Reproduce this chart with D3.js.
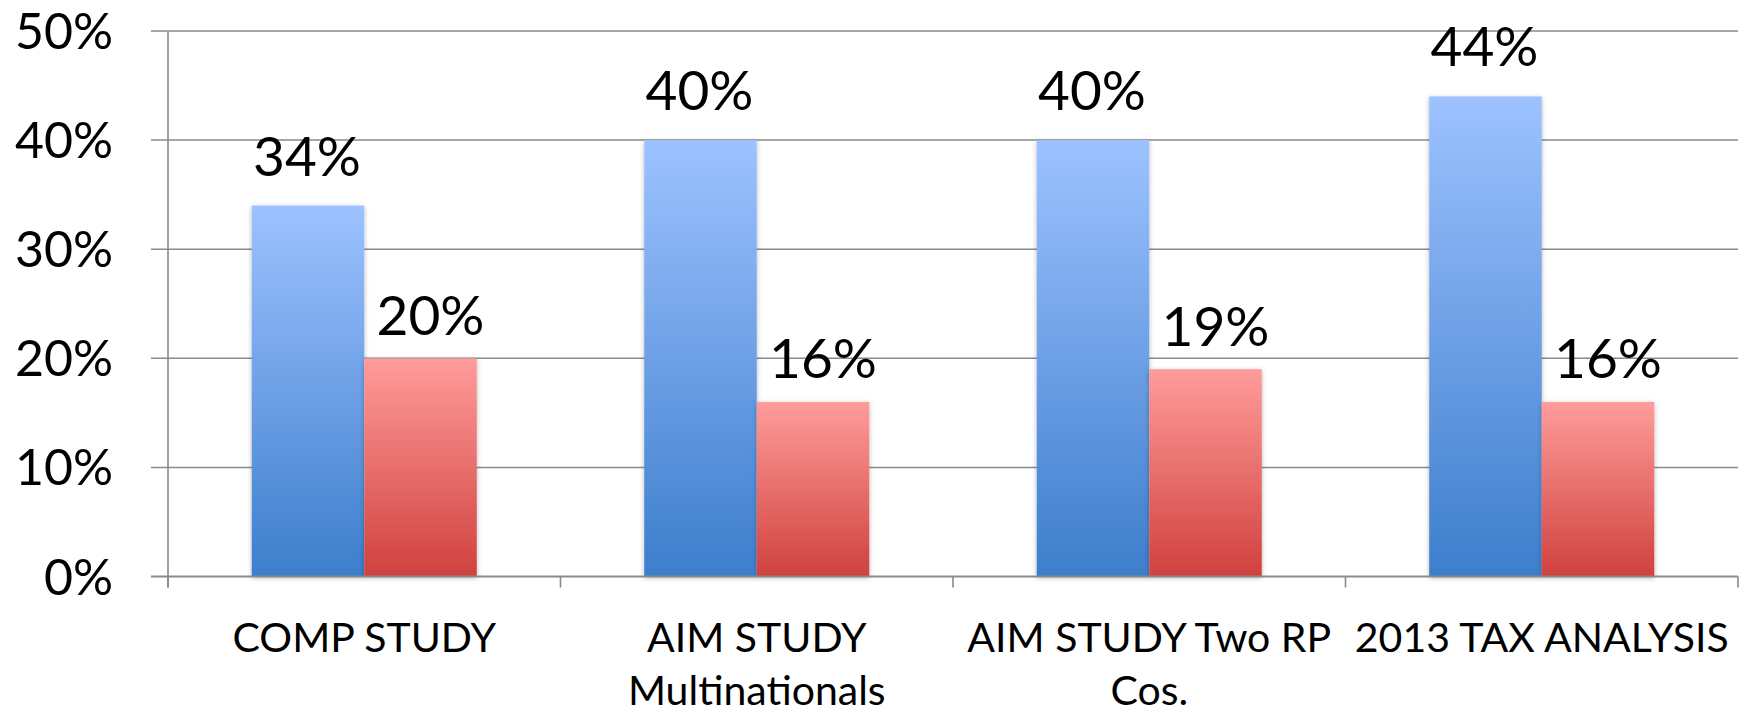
<!DOCTYPE html>
<html>
<head>
<meta charset="utf-8">
<script src="https://cdn.jsdelivr.net/npm/d3@7"></script>
<style>
  html, body { margin: 0; padding: 0; background: #ffffff; }
  svg { display: block; }
  text { font-family: Lato, "Open Sans", sans-serif; fill: #000; }
</style>
</head>
<body>
<svg id="chart" width="1745" height="715"></svg>
<script>
const categories = ["COMP STUDY", "AIM STUDY Multinationals", "AIM STUDY Two RP Cos.", "2013 TAX ANALYSIS"];
const seriesNames = ["Series 1", "Series 2"];
const series1 = [0.34, 0.40, 0.40, 0.44];
const series2 = [0.20, 0.16, 0.19, 0.16];
const yTicks = [0, 0.1, 0.2, 0.3, 0.4, 0.5];

const plotLeft = 168, plotRight = 1738, plotTop = 31, plotBottom = 576.5;

const svg = d3.select("#chart");
const defs = svg.append("defs");

function grad(id, c1, c2) {
  const g = defs.append("linearGradient").attr("id", id)
    .attr("x1", 0).attr("y1", 0).attr("x2", 0).attr("y2", 1);
  g.append("stop").attr("offset", "0%").attr("stop-color", c1);
  g.append("stop").attr("offset", "100%").attr("stop-color", c2);
}
grad("gBlue", "#9dc2ff", "#3d7ecc");
grad("gRed", "#ff9c9a", "#d0413e");

const f = defs.append("filter").attr("id", "shadow")
  .attr("x", "-20%").attr("y", "-10%").attr("width", "140%").attr("height", "120%");
f.append("feDropShadow").attr("dx", 0).attr("dy", 1.5).attr("stdDeviation", 2.5)
  .attr("flood-color", "#000").attr("flood-opacity", 0.28);

const x = d3.scaleBand().domain(categories).range([plotLeft, plotRight]).paddingInner(0).paddingOuter(0);
const x1 = d3.scaleBand().domain(seriesNames).range([0, x.bandwidth()]).paddingInner(0).paddingOuter(0.744);
const y = d3.scaleLinear().domain([0, 0.5]).range([plotBottom, plotTop]);

// gridlines (with left tick)
svg.append("g").selectAll("line").data(yTicks.filter(d => d > 0)).join("line")
  .attr("x1", plotLeft - 17).attr("x2", plotRight)
  .attr("y1", d => y(d)).attr("y2", d => y(d))
  .attr("stroke", "#8a8a8a").attr("stroke-width", 1.5);

// y axis line
svg.append("line").attr("x1", plotLeft).attr("x2", plotLeft).attr("y1", y(0.5)).attr("y2", plotBottom + 11)
  .attr("stroke", "#8a8a8a").attr("stroke-width", 1.6);

// y tick labels
svg.append("g").selectAll("text").data(yTicks).join("text")
  .attr("x", 113).attr("y", d => y(d) + 18)
  .attr("text-anchor", "end")
  .style("font-size", "50px")
  .text(d => d3.format(".0%")(d));

// bars
const groups = svg.append("g").selectAll("g").data(categories).join("g")
  .attr("transform", d => `translate(${x(d)},0)`);

const rows = categories.map((c, i) => [
  { s: seriesNames[0], v: series1[i] },
  { s: seriesNames[1], v: series2[i] }
]);

groups.selectAll("rect").data((d, i) => rows[i]).join("rect")
  .attr("x", d => x1(d.s)).attr("width", x1.bandwidth())
  .attr("y", d => y(d.v)).attr("height", d => y(0) - y(d.v))
  .attr("fill", d => d.s === seriesNames[0] ? "url(#gBlue)" : "url(#gRed)")
  .attr("filter", "url(#shadow)");

// x axis line + ticks
svg.append("line").attr("x1", plotLeft - 17).attr("x2", plotRight).attr("y1", plotBottom).attr("y2", plotBottom)
  .attr("stroke", "#8a8a8a").attr("stroke-width", 2);
const bounds = categories.map(c => x(c)).concat([x(categories[categories.length - 1]) + x.bandwidth()]);
svg.append("g").selectAll("line").data(bounds).join("line")
  .attr("x1", d => d).attr("x2", d => d).attr("y1", plotBottom).attr("y2", plotBottom + 11)
  .attr("stroke", "#8a8a8a").attr("stroke-width", 1.6);

// data labels
groups.selectAll("text.lbl").data((d, i) => rows[i]).join("text")
  .attr("class", "lbl")
  .attr("x", d => x1(d.s) + x1.bandwidth() / 2 + (d.s === seriesNames[0] ? -1 : 10))
  .attr("y", d => y(d.v) - (d.s === seriesNames[0] ? 30 : 23.5))
  .attr("text-anchor", "middle")
  .style("font-size", "55px")
  .text(d => d3.format(".0%")(d.v));

// category labels (wrapped)
const catG = svg.append("g").selectAll("text").data(categories).join("text")
  .attr("text-anchor", "middle")
  .style("font-size", "41px")
  .attr("transform", d => `translate(${x(d) + x.bandwidth() / 2},652)`);

catG.each(function(d) {
  const t = d3.select(this);
  const words = d.split(" ");
  let line = [];
  let lineNo = 0;
  let ts = t.append("tspan").attr("x", 0).attr("y", 0);
  words.forEach(w => {
    line.push(w);
    ts.text(line.join(" "));
    if (ts.node().getComputedTextLength() > x.bandwidth() && line.length > 1) {
      line.pop();
      ts.text(line.join(" "));
      line = [w];
      lineNo++;
      ts = t.append("tspan").attr("x", 0).attr("y", lineNo * 53).text(w);
    }
  });
});
</script>
</body>
</html>
